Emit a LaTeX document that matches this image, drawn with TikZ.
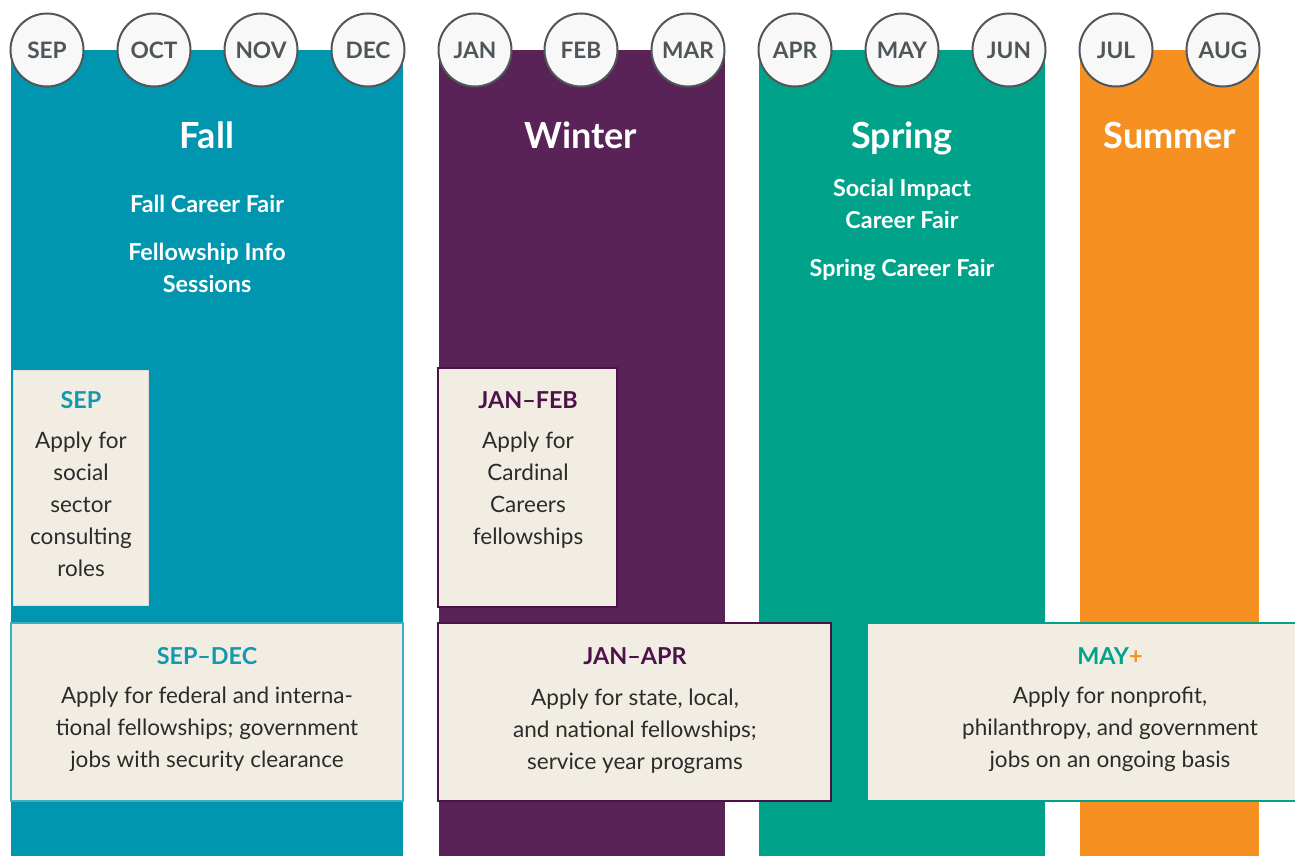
\documentclass[tikz,border=0pt]{standalone}
\usepackage{fontspec}
\setmainfont{Lato}
\definecolor{fallc}{HTML}{0096B0}
\definecolor{winterc}{HTML}{5A2358}
\definecolor{springc}{HTML}{00A38A}
\definecolor{summerc}{HTML}{F69020}
\definecolor{boxfill}{HTML}{F2EDE3}
\definecolor{circfill}{HTML}{F8F8F8}
\definecolor{circline}{HTML}{505659}
\definecolor{monthtxt}{HTML}{4F5659}
\definecolor{bodytxt}{HTML}{2B2B2B}
\definecolor{purpletxt}{HTML}{4D1249}
\definecolor{tealtxt}{HTML}{1398B0}
\definecolor{tealline}{HTML}{3AAFC2}
\begin{document}
\begin{tikzpicture}[x=0.75pt,y=-0.75pt,
  season/.style={inner sep=0pt, outer sep=0pt, anchor=north west, draw=none},
  month/.style={circle, fill=circfill, draw=circline, line width=1.5pt, minimum size=54.75pt, inner sep=0pt,
    text=monthtxt, font=\fontsize{17}{18}\selectfont\bfseries},
  seasontitle/.style={text=white, anchor=base, inner sep=0pt, font=\fontsize{27}{30}\selectfont\bfseries},
  event/.style={text=white, anchor=north, inner sep=0pt, align=center, font=\fontsize{17.5}{24}\selectfont\bfseries},
  infobox/.style={anchor=north west, fill=boxfill, inner sep=0pt, outer sep=0pt},
  boxtitle/.style={anchor=center, inner sep=0pt, font=\fontsize{17.5}{24}\selectfont\bfseries},
  boxbody/.style={anchor=north, inner sep=0pt, align=center, text=bodytxt, font=\fontsize{16.9}{24}\selectfont},
]
\useasboundingbox (0,0) rectangle (1295,856);

% season columns
\node[season, fill=fallc,   minimum width=294pt,    minimum height=604.5pt] (fall)   at (11,50) {};
\node[season, fill=winterc, minimum width=214.5pt,  minimum height=604.5pt] (winter) at (439,50) {};
\node[season, fill=springc, minimum width=214.5pt,  minimum height=604.5pt] (spring) at (759,50) {};
\node[season, fill=summerc, minimum width=134.25pt, minimum height=604.5pt] (summer) at (1080,50) {};

% months
\node[month] (sep) at (47,50) {SEP};
\node[month] (oct) at (154,50) {OCT};
\node[month] (nov) at (261,50) {NOV};
\node[month] (dec) at (368,50) {DEC};
\node[month] (jan) at (475,50) {JAN};
\node[month] (feb) at (581,50) {FEB};
\node[month] (mar) at (688,50) {MAR};
\node[month] (apr) at (795,50) {APR};
\node[month] (may) at (902,50) {MAY};
\node[month] (jun) at (1009,50) {JUN};
\node[month] (jul) at (1116,50) {JUL};
\node[month] (aug) at (1223,50) {AUG};

% season titles
\node[seasontitle] (tfall)   at (207,148) {Fall};
\node[seasontitle] (twinter) at (581,148) {Winter};
\node[seasontitle] (tspring) at (902,148) {Spring};
\node[seasontitle] (tsummer) at (1170,148) {Summer};

% events
\node[event] (e1) at (207,195) {Fall Career Fair};
\node[event] (e2) at (207,243) {Fellowship Info\\Sessions};
\node[event] (e3) at (902,179) {Social Impact\\Career Fair};
\node[event] (e4) at (902,259) {Spring Career Fair};

% boxes
\node[infobox, draw=boxfill!85!gray, line width=0.6pt, minimum width=101.25pt, minimum height=176.25pt] (bsep) at (13,370) {};
\node[boxtitle, text=tealtxt] (bsept) at (81,400) {SEP};
\node[boxbody] (bsepb) at (81,432) {Apply for\\social\\sector\\consulting\\roles};

\node[infobox, draw=purpletxt, line width=1.5pt, minimum width=134.25pt, minimum height=179.25pt] (bjf) at (438,368) {};
\node[boxtitle, text=purpletxt] (bjft) at (528,400) {JAN–FEB};
\node[boxbody] (bjfb) at (528,432) {Apply for\\Cardinal\\Careers\\fellowships};

\node[infobox, draw=tealline, line width=1.2pt, minimum width=294pt, minimum height=133.5pt] (bsd) at (11,623) {};
\node[boxtitle, text=tealtxt] (bsdt) at (207,656) {SEP–DEC};
\node[boxbody] (bsdb) at (207,687) {Apply for federal and interna-\\tional fellowships; government\\jobs with security clearance};

\node[infobox, draw=purpletxt, line width=1.5pt, minimum width=294.75pt, minimum height=133.5pt] (bja) at (438,623) {};
\node[boxtitle, text=purpletxt] (bjat) at (635,656) {JAN–APR};
\node[boxbody] (bjab) at (635,689) {Apply for state, local,\\and national fellowships;\\service year programs};

\node[infobox, draw=springc, line width=1.5pt, minimum width=322.5pt, minimum height=133.5pt] (bmay) at (867,623) {};
\node[boxtitle, text=springc] (bmayt) at (1110,656) {MAY\textcolor{summerc}{+}};
\node[boxbody] (bmayb) at (1110,687) {Apply for nonprofit,\\philanthropy, and government\\jobs on an ongoing basis};
\end{tikzpicture}
\end{document}
